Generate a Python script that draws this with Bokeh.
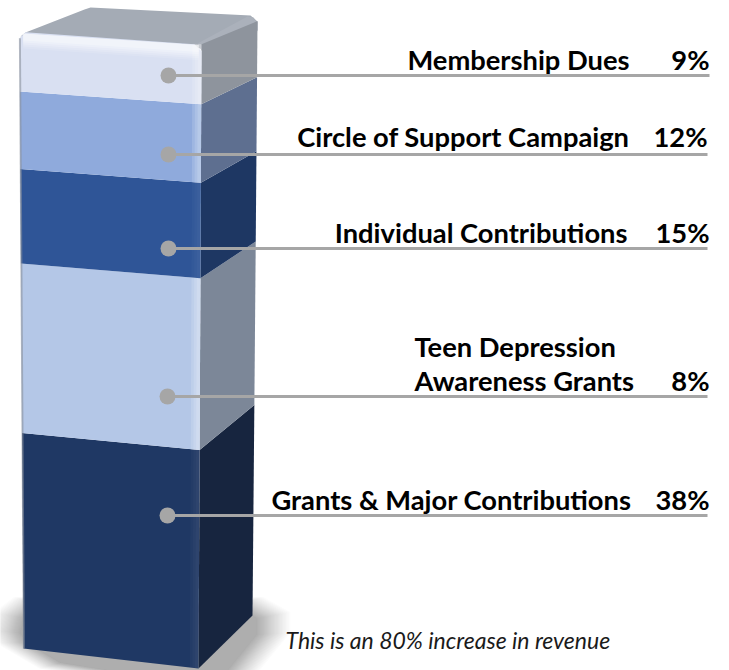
from bokeh.core.properties import value
from bokeh.embed import file_html
from bokeh.plotting import figure
from bokeh.resources import INLINE

# Stack order runs from the base of the column upwards.
categories = ["Grants & Major Contributions", "Teen Depression Awareness Grants",
              "Individual Contributions", "Circle of Support Campaign", "Membership Dues"]
printed_share = [38, 8, 15, 12, 9]
# Band heights follow the printed shares, except Teen Depression, whose
# band stands about 28 units tall while its printed figure is 8%.
band_units = [38, 28, 15, 12, 9]

front_colors = ["#1F3864", "#B4C7E7", "#2F5597", "#8FAADC", "#D9E0F2"]
side_colors = ["#17253F", "#7C8798", "#1E3763", "#5E6F90", "#8E949D"]

leader_y = [515, 396, 248, 154, 75]
leader_x0 = [167, 167, 168, 168, 168]
leader_x1 = [707, 707, 707, 707, 709]
name_right = [631, None, 627, 629, 629]
text_mid = [498.5, 379.5, 231.5, 135.5, 58.5]
pct_right = [709, 709, 709, 707, 709]

GREY = "#A6A6A6"
FONT = "Lato"
NAME_SIZE = "27.3px"

total = sum(band_units)


def y_left(c):
    # Foreshortened height of the column's front-left edge.
    return 648 - (5.45 * c + 0.0058 * c * c)


def drop(c):
    return 20 - 8 * c / total


def rise(c):
    return 53 - 0.16 * c - 0.0013 * c * c


def x_left(c):
    return 23 - 4 * c / total


def x_right(c):
    return 198 + 3 * c / total


def x_back(c):
    return 252 + 5 * c / total


def y_right(c):
    return y_left(c) + drop(c)


def y_back(c):
    return y_right(c) - rise(c)


def front_point(u, c):
    xl, xr = x_left(c), x_right(c)
    return xl + u * (xr - xl), y_left(c) + u * drop(c)


def front_strip(u0, u1, c0, c1):
    pts = [front_point(u0, c0), front_point(u1, c0), front_point(u1, c1), front_point(u0, c1)]
    return [q[0] for q in pts], [q[1] for q in pts]


p = figure(width=729, height=670, x_range=(0, 729), y_range=(670, 0),
           output_backend="svg", toolbar_location=None, min_border=0,
           outline_line_color=None, background_fill_color="white")
p.axis.visible = False
p.grid.visible = False

# Soft floor shadow built from stacked translucent rounded footprints.
foot = [(20, 632), (26, 642), (60, 662), (198, 684), (225, 672), (256, 634), (256, 618),
        (235, 606), (40, 606), (24, 618)]
cx, cy = 135, 640
steps = 30
for i in range(steps):
    g = 1 + 0.28 * ((steps - i) / steps) ** 1.3
    p.patch([cx + (a - cx) * g for a, _ in foot],
            [cy + (b - cy) * g for _, b in foot],
            fill_color="#3A3A3A", fill_alpha=0.017, line_color=None)

# Top face and its bevel towards the side.
p.patch([20, 25, 84, 90, 250, 257, 257, 201, 30],
        [36, 32, 9, 7, 15, 21, 30, 48, 36],
        fill_color="#A4ABB5", line_color=None)
p.patch([201, 197, 247, 253, 257, 257],
        [50, 43, 16, 17, 22, 30],
        fill_color="#ABB1BB", line_color=None)

# Stacked bands on the side and front faces.
bottom = 0
for i, h in enumerate(band_units):
    top = bottom + h
    p.patch([x_right(bottom), x_back(bottom), x_back(top), x_right(top)],
            [y_right(bottom), y_back(bottom), y_back(top), y_right(top)],
            fill_color=side_colors[i], line_color=None)
    if i == len(band_units) - 1:
        xs = [x_left(bottom), x_left(top), x_left(top) + 6, x_right(top) - 7, x_right(top),
              x_right(bottom)]
        ys = [y_left(bottom), y_left(top) + 6, y_left(top), y_right(top), y_right(top) + 7,
              y_right(bottom)]
    else:
        xs = [x_left(bottom), x_left(top), x_right(top), x_right(bottom)]
        ys = [y_left(bottom), y_left(top), y_right(top), y_right(bottom)]
    p.patch(xs, ys, fill_color=front_colors[i], line_color=None)
    # Soft light along the front face's vertical edges.
    light = 0.025 if i in (0, 2) else 0.14
    for u0 in (0.95, 0.965, 0.98):
        sx, sy = front_strip(u0, 1.0, bottom, top)
        p.patch(sx, sy, fill_color="white", fill_alpha=light, line_color=None)
    bottom = top

# Bevel highlight across the top of the front face.
for c0, alpha in ((total - 2.4, 0.12), (total - 2.1, 0.16), (total - 1.8, 0.2),
                  (total - 1.5, 0.24), (total - 1.2, 0.28)):
    sx, sy = front_strip(0.02, 0.985, c0, total - 0.15)
    p.patch(sx, sy, fill_color="white", fill_alpha=alpha, line_color=None)

# Thin grey rim down the left edge.
p.line([x_left(total) + 0.4, x_left(0) + 0.4], [y_left(total) + 6, y_left(0)],
       line_color="#8A919C", line_width=2, line_alpha=0.6)

# Leaders and their end dots.
p.segment(leader_x0, leader_y, leader_x1, leader_y, line_color=GREY, line_width=3)
p.scatter(leader_x0, leader_y, size=16, marker="circle", fill_color=GREY, line_color=None)

# Names and printed percentages.
for i, name in enumerate(categories):
    if name_right[i] is not None:
        p.text([name_right[i]], [text_mid[i]], text=[name], text_font=value(FONT),
               text_font_style="bold", text_font_size=NAME_SIZE, text_align="right",
               text_baseline="middle", text_color="black")
    p.text([pct_right[i]], [text_mid[i]], text=[f"{printed_share[i]}%"], text_font=value(FONT),
           text_font_style="bold", text_font_size=NAME_SIZE, text_align="right",
           text_baseline="middle", text_color="black")

p.text([414], [345.5], text=["Teen Depression"], text_font=value(FONT), text_font_style="bold",
       text_font_size=NAME_SIZE, text_baseline="middle", text_color="black")
p.text([414], [379.5], text=["Awareness Grants"], text_font=value(FONT), text_font_style="bold",
       text_font_size=NAME_SIZE, text_baseline="middle", text_color="black")

p.text([285], [639.5], text=["This is an 80% increase in revenue"], text_font=value(FONT),
       text_font_style="italic", text_font_size="23px", text_baseline="middle",
       text_color="#1A1A1A")

open("out.html", "w").write(file_html(p, INLINE))
